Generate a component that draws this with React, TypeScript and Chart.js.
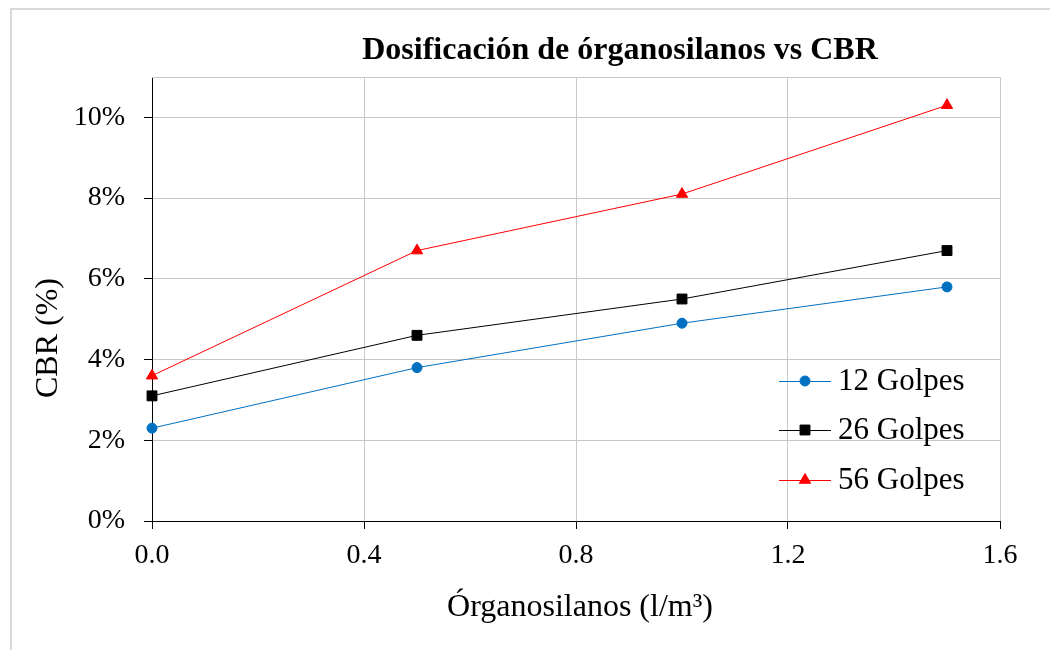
import React, { useEffect, useRef } from "react";
import { Chart, registerables } from "chart.js";

Chart.register(...registerables);

// Dosage of organosilanes (l/m³)
const doses = [0, 0.5, 1.0, 1.5];
// CBR (%) for each compaction energy
const golpes12 = [2.3, 3.8, 4.9, 5.8];
const golpes26 = [3.1, 4.6, 5.5, 6.7];
const golpes56 = [3.6, 6.7, 8.1, 10.3];

const seriesNames = ["12 Golpes", "26 Golpes", "56 Golpes"];
const chartTitle = "Dosificación de órganosilanos vs CBR";
const xTitle = "Órganosilanos (l/m³)";
const yTitle = "CBR (%)";

const FONT = '"Liberation Serif", "Times New Roman", serif';
const GRID = "#c8c8c8";

const toPoints = (ys: number[]) => doses.map((x, i) => ({ x, y: ys[i] }));

// Legend marker shaped like the dataset's point style
function drawMarker(ctx: CanvasRenderingContext2D, style: string, r: number, x: number, y: number) {
  ctx.beginPath();
  if (style === "circle") {
    ctx.arc(x, y, r, 0, Math.PI * 2);
  } else if (style === "rect") {
    const s = r * Math.SQRT1_2;
    ctx.rect(x - s, y - s, 2 * s, 2 * s);
  } else {
    const a = (30 * Math.PI) / 180;
    ctx.moveTo(x, y - r);
    ctx.lineTo(x + Math.cos(a) * r, y + Math.sin(a) * r);
    ctx.lineTo(x - Math.cos(a) * r, y + Math.sin(a) * r);
    ctx.closePath();
  }
  ctx.fill();
  ctx.stroke();
}

// Frame, chart-area top edge, titles and an inline legend (line + marker)
const decorations = {
  id: "decorations",
  beforeDraw(chart: any) {
    const { ctx } = chart;
    ctx.save();
    ctx.strokeStyle = "#d9d9d9";
    ctx.lineWidth = 2;
    ctx.beginPath();
    ctx.moveTo(10, 9);
    ctx.lineTo(chart.width, 9);
    ctx.moveTo(11, 8);
    ctx.lineTo(11, chart.height);
    ctx.stroke();
    ctx.restore();
  },
  afterDraw(chart: any) {
    const { ctx, chartArea } = chart;
    ctx.save();
    // top edge of the plot area
    ctx.strokeStyle = GRID;
    ctx.lineWidth = 1;
    ctx.beginPath();
    ctx.moveTo(chartArea.left, chartArea.top + 0.5);
    ctx.lineTo(chartArea.right, chartArea.top + 0.5);
    ctx.stroke();

    ctx.fillStyle = "#000";
    ctx.textBaseline = "middle";
    ctx.textAlign = "center";
    ctx.font = `bold 32px ${FONT}`;
    ctx.fillText(chartTitle, 620, 51);

    ctx.font = `32px ${FONT}`;
    ctx.fillText(xTitle, 580, 608);

    ctx.save();
    ctx.translate(49, 338);
    ctx.rotate(-Math.PI / 2);
    ctx.fillText(yTitle, 0, 0);
    ctx.restore();

    // legend
    const rowsY = [381, 430, 480];
    chart.data.datasets.forEach((ds: any, i: number) => {
      const y = rowsY[i];
      ctx.strokeStyle = ds.borderColor;
      ctx.lineWidth = ds.borderWidth;
      ctx.beginPath();
      ctx.moveTo(779, y + 0.5);
      ctx.lineTo(831, y + 0.5);
      ctx.stroke();
      ctx.fillStyle = ds.pointBackgroundColor;
      ctx.strokeStyle = ds.pointBorderColor;
      ctx.lineWidth = 1;
      drawMarker(ctx, ds.pointStyle, ds.pointRadius, 805, y);
      ctx.fillStyle = "#000";
      ctx.textAlign = "left";
      ctx.textBaseline = "middle";
      ctx.font = `31px ${FONT}`;
      ctx.fillText(ds.label, 838, y + 1);
    });
    ctx.restore();
  },
};

export default function App() {
  const canvasRef = useRef<HTMLCanvasElement | null>(null);

  useEffect(() => {
    const canvas = canvasRef.current;
    if (!canvas) return;
    const mk = (label: string, ys: number[], color: string, style: string, r: number) => ({
      label,
      data: toPoints(ys),
      showLine: true,
      borderColor: color,
      borderWidth: 1,
      backgroundColor: color,
      pointBackgroundColor: color,
      pointBorderColor: color,
      pointStyle: style,
      pointRadius: r,
      pointHoverRadius: r,
      clip: false,
    });
    const chart = new Chart(canvas, {
      type: "scatter",
      data: {
        datasets: [
          mk(seriesNames[0], golpes12, "#0070c0", "circle", 5),
          mk(seriesNames[1], golpes26, "#000000", "rect", 7),
          mk(seriesNames[2], golpes56, "#ff0000", "triangle", 6.5),
        ] as any,
      },
      options: {
        animation: false,
        responsive: false,
        devicePixelRatio: 1,
        layout: { padding: { top: 77, right: 50, left: 0, bottom: 0 } },
        plugins: {
          legend: { display: false },
          title: { display: false },
          tooltip: { enabled: false },
        },
        scales: {
          x: {
            type: "linear",
            min: 0,
            max: 1.6,
            ticks: {
              stepSize: 0.4,
              padding: 10,
              color: "#000",
              font: { family: FONT, size: 28 },
              callback: (v: any) => Number(v).toFixed(1),
            },
            grid: { color: GRID, lineWidth: 1, tickLength: 8, tickColor: "#000" },
            border: { color: "#000", width: 1 },
            afterFit: (scale: any) => {
              scale.height = 129;
            },
          },
          y: {
            type: "linear",
            min: 0,
            max: 11,
            ticks: {
              stepSize: 2,
              includeBounds: false,
              padding: 19,
              color: "#000",
              font: { family: FONT, size: 28 },
              callback: (v: any) => `${v}%`,
            },
            grid: { color: GRID, lineWidth: 1, tickLength: 8, tickColor: "#000" },
            border: { color: "#000", width: 1 },
            afterFit: (scale: any) => {
              scale.width = 152;
            },
          },
        },
      } as any,
      plugins: [decorations],
    });
    return () => chart.destroy();
  }, []);

  return (
    <div style={{ position: "absolute", left: 0, top: 0, width: 1050, height: 650, background: "#fff" }}>
      <canvas ref={canvasRef} width={1050} height={650} style={{ display: "block" }} />
    </div>
  );
}
